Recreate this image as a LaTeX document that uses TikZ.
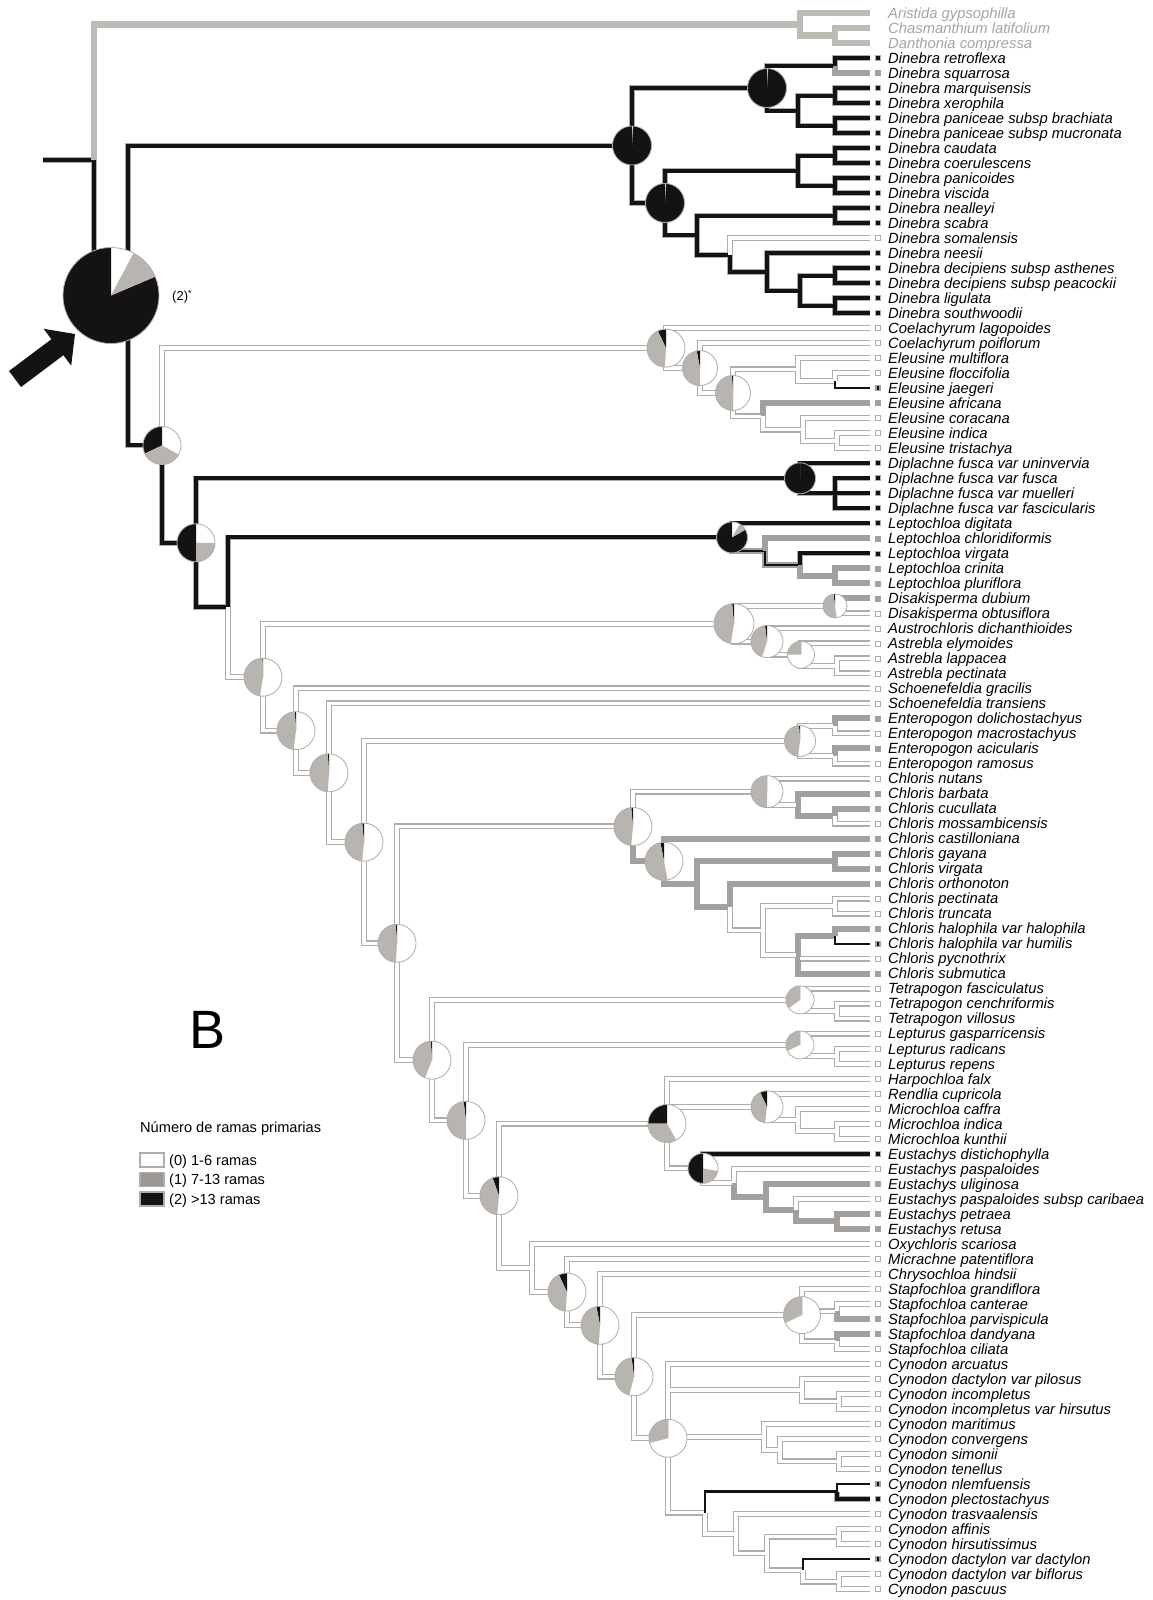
\documentclass[tikz,border=0pt]{standalone}
\usepackage{fontspec}
\setmainfont{Liberation Sans}
\usetikzlibrary{calc}

\definecolor{lineG}{RGB}{163,160,157}
\definecolor{dblG}{RGB}{176,172,168}
\definecolor{pieG}{RGB}{184,180,176}
\definecolor{pieK}{RGB}{20,18,18}
\definecolor{outG}{RGB}{190,186,182}
\definecolor{outTxt}{RGB}{165,165,165}
\definecolor{legG}{RGB}{155,152,150}

\tikzset{
  % branch strokes, first pass (borders)
  outer w/.style={draw=dblG, line width=6pt},
  outer g/.style={draw=lineG, line width=6pt},
  outer k/.style={draw=dblG, line width=5.6pt},
  outer kt/.style={draw=pieK, line width=2.2pt},
  outer kg/.style={draw=lineG, line width=6pt},
  outer o/.style={draw=outG, line width=6.5pt},
  % branch strokes, second pass (cores)
  inner w/.style={draw=white, line width=3.6pt},
  inner g/.style={draw=lineG, line width=3.6pt},
  inner k/.style={draw=pieK, line width=4pt},
  inner kt/.style={draw=pieK, line width=2.2pt},
  inner kg/.style={draw=pieK, line width=2pt},
  inner o/.style={draw=outG, line width=6.5pt},
  % taxon labels
  taxon/.style={anchor=base west, inner sep=0pt, font=\fontsize{14.8}{15}\selectfont\itshape},
  taxon o/.style={taxon, text=outTxt},
  taxon w/.style={taxon}, taxon g/.style={taxon},
  taxon k/.style={taxon}, taxon m/.style={taxon},
  % state squares at the tips
  sq/.style={rectangle, minimum size=5pt, inner sep=0pt, line width=0.7pt},
  sq o/.style={sq},
  sq w/.style={sq, draw=dblG, fill=white},
  sq g/.style={sq, draw=lineG, fill=lineG},
  sq k/.style={sq, draw=dblG, fill=pieK},
  sq m/.style={sq, draw=lineG, fill=lineG, path picture={\fill[pieK]
      ([xshift=-0.9pt]path picture bounding box.north) rectangle
      ([xshift=0.9pt]path picture bounding box.south);}},
  legbox/.style={rectangle, minimum width=24pt, minimum height=14pt, inner sep=0pt, line width=1.2pt},
  leglab/.style={anchor=base west, inner sep=0pt, font=\fontsize{14.6}{16}\selectfont},
}

% internal node: x given, y halfway between first and last child
\newcommand\Nd[4]{\path let \p1=($(#3)!0.5!(#4)$) in (#2pt,\y1) coordinate (#1);}

% pie of ancestral states: centre, radius, share of state 2, share of state 1
\newcommand\Pie[4]{%
  \begin{scope}[shift={(#1)}, x=1pt, y=1pt]
    \fill[white] (0,0) circle[radius=#2];
    \fill[pieK] (0,0) -- (90:#2) arc[start angle=90, delta angle={360*#3}, radius=#2] -- cycle;
    \fill[pieG] (0,0) -- ({90+360*#3}:#2) arc[start angle={90+360*#3}, delta angle={360*#4}, radius=#2] -- cycle;
    \draw[dblG, line width=0.8pt] (0,0) circle[radius=#2];
  \end{scope}}

% all branches: state style, parent, child
\newcommand\TreeBranches{%
\Brn{k}{rootstub}{rt}\Brn{o}{rt}{og}\Brn{k}{rt}{ingr}%
\Brn{o}{og}{t1}\Brn{o}{og}{oc}\Brn{o}{oc}{t2}\Brn{o}{oc}{t3}%
\Brn{k}{ingr}{dm}\Brn{k}{dm}{da}\Brn{k}{dm}{db}%
\Brn{k}{da}{d45}\Brn{k}{d45}{t4}\Brn{g}{d45}{t5}%
\Brn{k}{da}{d69}\Brn{k}{d69}{d67}\Brn{k}{d67}{t6}\Brn{k}{d67}{t7}%
\Brn{k}{d69}{d89}\Brn{k}{d89}{t8}\Brn{k}{d89}{t9}%
\Brn{k}{db}{d1013}\Brn{k}{d1013}{d1011}\Brn{k}{d1011}{t10}\Brn{k}{d1011}{t11}%
\Brn{k}{d1013}{d1213}\Brn{k}{d1213}{t12}\Brn{k}{d1213}{t13}%
\Brn{k}{db}{d1421}\Brn{k}{d1421}{d1415}\Brn{k}{d1415}{t14}\Brn{k}{d1415}{t15}%
\Brn{k}{d1421}{d1621}\Brn{w}{d1621}{t16}\Brn{k}{d1621}{d1721}%
\Brn{k}{d1721}{t17}\Brn{k}{d1721}{d1821}%
\Brn{k}{d1821}{d1819}\Brn{k}{d1819}{t18}\Brn{k}{d1819}{t19}%
\Brn{k}{d1821}{d2021}\Brn{k}{d2021}{t20}\Brn{k}{d2021}{t21}%
\Brn{k}{ingr}{p1}%
\Brn{w}{p1}{c1}\Brn{w}{c1}{t22}\Brn{w}{c1}{c2}\Brn{w}{c2}{t23}\Brn{w}{c2}{c3}%
\Brn{w}{c3}{e2426}\Brn{w}{e2426}{t24}\Brn{w}{e2426}{e2526}\Brn{w}{e2526}{t25}\Brn{kt}{e2526}{t26}%
\Brn{w}{c3}{e2730}\Brn{g}{e2730}{t27}\Brn{w}{e2730}{e2830}\Brn{w}{e2830}{t28}%
\Brn{w}{e2830}{e2930}\Brn{w}{e2930}{t29}\Brn{w}{e2930}{t30}%
\Brn{k}{p1}{p2}\Brn{k}{p2}{dp}\Brn{k}{dp}{t31}\Brn{k}{dp}{dp2}%
\Brn{k}{dp2}{t32}\Brn{k}{dp2}{t33}\Brn{k}{dp2}{t34}%
\Brn{k}{p2}{s0}\Brn{k}{s0}{lp}\Brn{k}{lp}{t35}\Brn{kg}{lp}{l2}\Brn{g}{l2}{t36}%
\Brn{kg}{l2}{l3}\Brn{k}{l3}{t37}\Brn{g}{l3}{l3839}\Brn{g}{l3839}{t38}\Brn{g}{l3839}{t39}%
\Brn{w}{s0}{s1}\Brn{w}{s1}{a1}\Brn{w}{a1}{a2}\Brn{g}{a2}{t40}\Brn{w}{a2}{t41}%
\Brn{w}{a1}{a3}\Brn{w}{a3}{t42}\Brn{w}{a3}{a4}\Brn{w}{a4}{t43}\Brn{w}{a4}{a45}%
\Brn{w}{a45}{t44}\Brn{w}{a45}{t45}%
\Brn{w}{s1}{s2}\Brn{w}{s2}{t46}\Brn{w}{s2}{s3}\Brn{w}{s3}{t47}\Brn{w}{s3}{s4}%
\Brn{w}{s4}{en}\Brn{w}{en}{en1}\Brn{g}{en1}{t48}\Brn{w}{en1}{t49}%
\Brn{w}{en}{en2}\Brn{g}{en2}{t50}\Brn{w}{en2}{t51}%
\Brn{w}{s4}{s5}\Brn{w}{s5}{ch}\Brn{w}{ch}{cha}\Brn{w}{cha}{t52}\Brn{w}{cha}{ch5355}%
\Brn{g}{ch5355}{t53}\Brn{g}{ch5355}{ch5455}\Brn{g}{ch5455}{t54}\Brn{w}{ch5455}{t55}%
\Brn{g}{ch}{chb}\Brn{g}{chb}{t56}\Brn{g}{chb}{ch5765}\Brn{g}{ch5765}{ch5758}%
\Brn{g}{ch5758}{t57}\Brn{g}{ch5758}{t58}%
\Brn{g}{ch5765}{ch5965}\Brn{g}{ch5965}{t59}\Brn{w}{ch5965}{ch6065}%
\Brn{w}{ch6065}{ch6061}\Brn{w}{ch6061}{t60}\Brn{w}{ch6061}{t61}%
\Brn{w}{ch6065}{ch6265}\Brn{g}{ch6265}{ch6263}\Brn{g}{ch6263}{t62}\Brn{kt}{ch6263}{t63}%
\Brn{w}{ch6265}{t64}\Brn{g}{ch6265}{t65}%
\Brn{w}{s5}{s6}\Brn{w}{s6}{te}\Brn{w}{te}{t66}\Brn{w}{te}{te2}\Brn{w}{te2}{t67}\Brn{w}{te2}{t68}%
\Brn{w}{s6}{s7}\Brn{w}{s7}{lu}\Brn{w}{lu}{t69}\Brn{w}{lu}{lu2}\Brn{w}{lu2}{t70}\Brn{w}{lu2}{t71}%
\Brn{w}{s7}{s8}\Brn{w}{s8}{h0}\Brn{w}{h0}{t72}\Brn{w}{h0}{mi}\Brn{w}{mi}{t73}\Brn{w}{mi}{mi1}%
\Brn{w}{mi1}{t74}\Brn{w}{mi1}{mi2}\Brn{w}{mi2}{t75}\Brn{w}{mi2}{t76}%
\Brn{w}{h0}{eu}\Brn{k}{eu}{t77}\Brn{w}{eu}{eu1}\Brn{w}{eu1}{t78}\Brn{g}{eu1}{eu2}%
\Brn{g}{eu2}{t79}\Brn{g}{eu2}{eu3}\Brn{w}{eu3}{t80}\Brn{g}{eu3}{eu4}\Brn{g}{eu4}{t81}\Brn{g}{eu4}{t82}%
\Brn{w}{s8}{s9}\Brn{w}{s9}{t83}\Brn{w}{s9}{s10}\Brn{w}{s10}{t84}\Brn{w}{s10}{s11}%
\Brn{w}{s11}{t85}\Brn{w}{s11}{s12}%
\Brn{w}{s12}{st}\Brn{w}{st}{t86}\Brn{w}{st}{st1}\Brn{w}{st1}{t87}\Brn{g}{st1}{t88}%
\Brn{w}{st}{st2}\Brn{g}{st2}{t89}\Brn{w}{st2}{t90}%
\Brn{w}{s12}{s13}\Brn{w}{s13}{t91}\Brn{w}{s13}{cy1}\Brn{w}{cy1}{t92}\Brn{w}{cy1}{cy2}%
\Brn{w}{cy2}{t93}\Brn{w}{cy2}{t94}%
\Brn{w}{s13}{cy4}\Brn{w}{cy4}{t95}\Brn{w}{cy4}{cy5}\Brn{w}{cy5}{t96}\Brn{w}{cy5}{cy6}%
\Brn{w}{cy6}{t97}\Brn{w}{cy6}{t98}%
\Brn{w}{s13}{cy3}\Brn{kt}{cy3}{cy7}\Brn{kt}{cy7}{t99}\Brn{k}{cy7}{t100}%
\Brn{w}{cy3}{cy8}\Brn{w}{cy8}{t101}\Brn{w}{cy8}{cy8b}\Brn{w}{cy8b}{cy9}%
\Brn{w}{cy9}{t102}\Brn{w}{cy9}{t103}%
\Brn{w}{cy8b}{cy10}\Brn{kt}{cy10}{t104}\Brn{w}{cy10}{cy11}\Brn{w}{cy11}{t105}\Brn{w}{cy11}{t106}%
}

\begin{document}
\begin{tikzpicture}[x=1pt, y=-1pt]
\fill[white] (0,0) rectangle (1153,1600);
\path[use as bounding box] (0,0) rectangle (1153,1600);

% terminal taxa: branch end, state square, name
\foreach \i/\nm/\st in {%
1/Aristida gypsophilla/o,%
2/Chasmanthium latifolium/o,%
3/Danthonia compressa/o,%
4/Dinebra retroflexa/k,%
5/Dinebra squarrosa/g,%
6/Dinebra marquisensis/k,%
7/Dinebra xerophila/k,%
8/Dinebra paniceae subsp brachiata/k,%
9/Dinebra paniceae subsp mucronata/k,%
10/Dinebra caudata/k,%
11/Dinebra coerulescens/k,%
12/Dinebra panicoides/k,%
13/Dinebra viscida/k,%
14/Dinebra nealleyi/k,%
15/Dinebra scabra/k,%
16/Dinebra somalensis/w,%
17/Dinebra neesii/k,%
18/Dinebra decipiens subsp asthenes/k,%
19/Dinebra decipiens subsp peacockii/k,%
20/Dinebra ligulata/k,%
21/Dinebra southwoodii/k,%
22/Coelachyrum lagopoides/w,%
23/Coelachyrum poiflorum/w,%
24/Eleusine multiflora/w,%
25/Eleusine floccifolia/w,%
26/Eleusine jaegeri/m,%
27/Eleusine africana/g,%
28/Eleusine coracana/w,%
29/Eleusine indica/w,%
30/Eleusine tristachya/w,%
31/Diplachne fusca var uninvervia/k,%
32/Diplachne fusca var fusca/k,%
33/Diplachne fusca var muelleri/k,%
34/Diplachne fusca var fascicularis/k,%
35/Leptochloa digitata/k,%
36/Leptochloa chloridiformis/g,%
37/Leptochloa virgata/k,%
38/Leptochloa crinita/g,%
39/Leptochloa pluriflora/g,%
40/Disakisperma dubium/g,%
41/Disakisperma obtusiflora/w,%
42/Austrochloris dichanthioides/w,%
43/Astrebla elymoides/w,%
44/Astrebla lappacea/w,%
45/Astrebla pectinata/w,%
46/Schoenefeldia gracilis/w,%
47/Schoenefeldia transiens/w,%
48/Enteropogon dolichostachyus/g,%
49/Enteropogon macrostachyus/w,%
50/Enteropogon acicularis/g,%
51/Enteropogon ramosus/w,%
52/Chloris nutans/w,%
53/Chloris barbata/g,%
54/Chloris cucullata/g,%
55/Chloris mossambicensis/w,%
56/Chloris castilloniana/g,%
57/Chloris gayana/g,%
58/Chloris virgata/g,%
59/Chloris orthonoton/g,%
60/Chloris pectinata/w,%
61/Chloris truncata/w,%
62/Chloris halophila var halophila/g,%
63/Chloris halophila var humilis/m,%
64/Chloris pycnothrix/w,%
65/Chloris submutica/g,%
66/Tetrapogon fasciculatus/w,%
67/Tetrapogon cenchriformis/w,%
68/Tetrapogon villosus/w,%
69/Lepturus gasparricensis/w,%
70/Lepturus radicans/w,%
71/Lepturus repens/w,%
72/Harpochloa falx/w,%
73/Rendlia cupricola/w,%
74/Microchloa caffra/w,%
75/Microchloa indica/w,%
76/Microchloa kunthii/w,%
77/Eustachys distichophylla/k,%
78/Eustachys paspaloides/w,%
79/Eustachys uliginosa/g,%
80/Eustachys paspaloides subsp caribaea/w,%
81/Eustachys petraea/g,%
82/Eustachys retusa/g,%
83/Oxychloris scariosa/w,%
84/Micrachne patentiflora/w,%
85/Chrysochloa hindsii/w,%
86/Stapfochloa grandiflora/w,%
87/Stapfochloa canterae/w,%
88/Stapfochloa parvispicula/g,%
89/Stapfochloa dandyana/g,%
90/Stapfochloa ciliata/w,%
91/Cynodon arcuatus/w,%
92/Cynodon dactylon var pilosus/w,%
93/Cynodon incompletus/w,%
94/Cynodon incompletus var hirsutus/w,%
95/Cynodon maritimus/w,%
96/Cynodon convergens/w,%
97/Cynodon simonii/w,%
98/Cynodon tenellus/w,%
99/Cynodon nlemfuensis/m,%
100/Cynodon plectostachyus/k,%
101/Cynodon trasvaalensis/w,%
102/Cynodon affinis/w,%
103/Cynodon hirsutissimus/w,%
104/Cynodon dactylon var dactylon/m,%
105/Cynodon dactylon var biflorus/w,%
106/Cynodon pascuus/w%
}{%
  \pgfmathsetmacro\yy{13+15.01*(\i-1)}
  \coordinate (t\i) at (870,\yy);
  \node[sq \st] (q\i) at (878,\yy) {};
  \node[taxon \st] (n\i) at (888,\yy+5.3) {\nm};
}

% internal nodes
\Nd{oc}{835}{t2}{t3}
\Nd{og}{800}{t1}{oc}
\Nd{d45}{835}{t4}{t5}
\Nd{d67}{835}{t6}{t7}
\Nd{d89}{835}{t8}{t9}
\Nd{d69}{798}{d67}{d89}
\Nd{da}{767}{d45}{d69}
\Nd{d1011}{835}{t10}{t11}
\Nd{d1213}{835}{t12}{t13}
\Nd{d1013}{798}{d1011}{d1213}
\Nd{d1415}{835}{t14}{t15}
\Nd{d1819}{835}{t18}{t19}
\Nd{d2021}{835}{t20}{t21}
\Nd{d1821}{800}{d1819}{d2021}
\Nd{d1721}{767}{t17}{d1821}
\Nd{d1621}{730}{t16}{d1721}
\Nd{d1421}{697}{d1415}{d1621}
\Nd{db}{665}{d1013}{d1421}
\Nd{dm}{632}{da}{db}
\Nd{e2526}{835}{t25}{t26}
\Nd{e2426}{798}{t24}{e2526}
\Nd{e2930}{837}{t29}{t30}
\Nd{e2830}{803}{t28}{e2930}
\Nd{e2730}{763}{t27}{e2830}
\Nd{c3}{733}{e2426}{e2730}
\Nd{c2}{700}{t23}{c3}
\Nd{c1}{666}{t22}{c2}
\Nd{dp2}{835}{t32}{t34}
\Nd{dp}{800}{t31}{dp2}
\Nd{l3839}{835}{t38}{t39}
\Nd{l3}{800}{t37}{l3839}
\Nd{l2}{765}{t36}{l3}
\Nd{lp}{732}{t35}{l2}
\Nd{a2}{835}{t40}{t41}
\Nd{a45}{837}{t44}{t45}
\Nd{a4}{801}{t43}{a45}
\Nd{a3}{767}{t42}{a4}
\Nd{a1}{734}{a2}{a3}
\Nd{en1}{835}{t48}{t49}
\Nd{en2}{835}{t50}{t51}
\Nd{en}{800}{en1}{en2}
\Nd{ch5455}{835}{t54}{t55}
\Nd{ch5355}{798}{t53}{ch5455}
\Nd{cha}{767}{t52}{ch5355}
\Nd{ch5758}{835}{t57}{t58}
\Nd{ch6061}{835}{t60}{t61}
\Nd{ch6263}{835}{t62}{t63}
\Nd{ch6265}{798}{ch6263}{t65}
\Nd{ch6065}{763}{ch6061}{ch6265}
\Nd{ch5965}{730}{t59}{ch6065}
\Nd{ch5765}{697}{ch5758}{ch5965}
\Nd{chb}{664}{t56}{ch5765}
\Nd{ch}{633}{cha}{chb}
\Nd{te2}{837}{t67}{t68}
\Nd{te}{800}{t66}{te2}
\Nd{lu2}{837}{t70}{t71}
\Nd{lu}{800}{t69}{lu2}
\Nd{mi2}{837}{t75}{t76}
\Nd{mi1}{798}{t74}{mi2}
\Nd{mi}{767}{t73}{mi1}
\Nd{eu4}{837}{t81}{t82}
\Nd{eu3}{796}{t80}{eu4}
\Nd{eu2}{766}{t79}{eu3}
\Nd{eu1}{734}{t78}{eu2}
\Nd{eu}{703}{t77}{eu1}
\Nd{h0}{667}{t72}{eu}
\Nd{st1}{837}{t87}{t88}
\Nd{st2}{837}{t89}{t90}
\Nd{st}{802}{t86}{st2}
\Nd{cy2}{839}{t93}{t94}
\Nd{cy1}{802}{t92}{cy2}
\Nd{cy6}{839}{t97}{t98}
\Nd{cy5}{780}{t96}{cy6}
\Nd{cy4}{764}{t95}{cy5}
\Nd{cy7}{837}{t99}{t100}
\Nd{cy9}{839}{t102}{t103}
\Nd{cy11}{839}{t105}{t106}
\Nd{cy10}{803}{t104}{cy11}
\Nd{cy8b}{767}{cy9}{cy10}
\Nd{cy8}{736}{t101}{cy8b}
\Nd{cy3}{705}{cy7}{cy8}
\Nd{s13}{668}{t91}{cy3}
\Nd{s12}{634}{st}{s13}
\Nd{s11}{600}{t85}{s12}
\Nd{s10}{567}{t84}{s11}
\Nd{s9}{532}{t83}{s10}
\Nd{s8}{499}{h0}{s9}
\Nd{s7}{466}{lu}{s8}
\Nd{s6}{432}{te}{s7}
\Nd{s5}{397}{ch}{s6}
\Nd{s4}{364}{en}{s5}
\Nd{s3}{329}{t47}{s4}
\Nd{s2}{296}{t46}{s3}
\Nd{s1}{263}{a1}{s2}
\Nd{s0}{228}{lp}{s1}
\Nd{p2}{196}{dp}{s0}
\Nd{p1}{162}{c1}{p2}
\Nd{ingr}{128}{dm}{p1}
\Nd{rt}{94}{og}{ingr}
\path let \p1=(rt) in (43pt,\y1) coordinate (rootstub);
\path let \p1=(ingr) in (\x1-17pt,\y1) coordinate (ingrpie);

% branches: borders first, then cores, so that junctions merge
\def\Brn#1#2#3{\draw[outer #1] (#2) |- (#3);}
\TreeBranches
\def\Brn#1#2#3{\draw[inner #1] (#2) |- (#3);}
\TreeBranches

% ancestral state pies
\Pie{ingrpie}{48}{0.814}{0.108}
\Pie{dm}{19.5}{0.99}{0.005}
\Pie{da}{19.5}{0.99}{0.005}
\Pie{db}{19.5}{0.99}{0.005}
\Pie{p1}{19}{0.32}{0.35}
\Pie{p2}{19}{0.5}{0.25}
\Pie{c1}{19}{0.07}{0.42}
\Pie{c2}{17.5}{0.03}{0.47}
\Pie{c3}{17.5}{0.01}{0.49}
\Pie{dp}{15.5}{0.995}{0}
\Pie{lp}{15.5}{0.833}{0.083}
\Pie{s1}{19}{0.005}{0.47}
\Pie{s2}{19}{0.01}{0.47}
\Pie{s3}{19}{0.01}{0.48}
\Pie{s4}{19}{0.015}{0.47}
\Pie{s5}{19}{0.01}{0.48}
\Pie{s6}{19}{0.01}{0.43}
\Pie{s7}{19}{0.02}{0.48}
\Pie{s8}{19}{0.055}{0.43}
\Pie{s10}{19}{0.07}{0.42}
\Pie{s11}{19}{0.03}{0.46}
\Pie{s12}{19}{0.02}{0.44}
\Pie{s13}{19}{0}{0.29}
\Pie{a1}{20}{0.015}{0.46}
\Pie{a2}{12}{0.02}{0.5}
\Pie{a3}{16}{0.02}{0.43}
\Pie{a4}{13.5}{0}{0.25}
\Pie{en}{15.5}{0.01}{0.47}
\Pie{ch}{19}{0.015}{0.47}
\Pie{cha}{16}{0}{0.5}
\Pie{chb}{19}{0.03}{0.5}
\Pie{te}{14}{0}{0.35}
\Pie{lu}{14}{0}{0.32}
\Pie{h0}{19}{0.25}{0.33}
\Pie{mi}{16}{0.07}{0.41}
\Pie{eu}{15}{0.5}{0.22}
\Pie{st}{18.5}{0}{0.32}

% root label and pointer
\node[anchor=west, inner sep=0pt, font=\fontsize{13}{13}\selectfont] (rootlab) at (172,297) {(2)\textsuperscript{*}};
\fill[pieK] (9,371) -- (51.4,339.2) -- (43.6,328.8) -- (75,334) -- (71.2,365.6) -- (63.4,355.2) -- (21,387) -- cycle;

% panel letter
\node[anchor=base, inner sep=0pt, font=\fontsize{54}{54}\selectfont] (panelB) at (208,1048) {B};

% legend
\node[anchor=base west, inner sep=0pt, font=\fontsize{14.6}{16}\selectfont] (legtitle) at (140,1132) {Número de ramas primarias};
\node[legbox, draw=dblG, fill=white] (leg0) at (152,1160) {};
\node[legbox, draw=legG!80, fill=legG] (leg1) at (152,1179.5) {};
\node[legbox, draw=dblG, fill=pieK] (leg2) at (152,1199) {};
\node[leglab] (legl0) at (169,1165) {(0) 1-6 ramas};
\node[leglab] (legl1) at (169,1184.5) {(1) 7-13 ramas};
\node[leglab] (legl2) at (169,1204) {(2) >13 ramas};
\end{tikzpicture}
\end{document}
